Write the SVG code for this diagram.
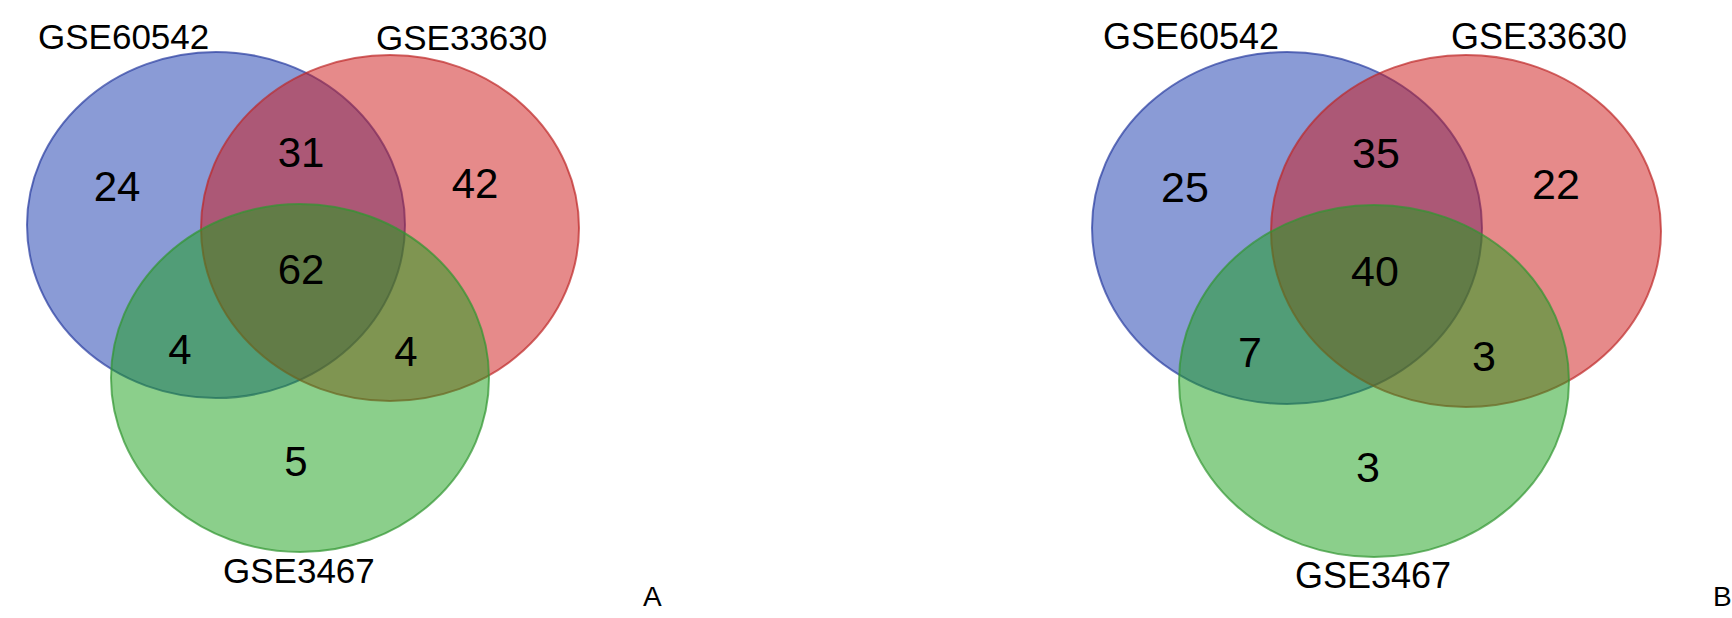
<svg xmlns="http://www.w3.org/2000/svg" width="1732" height="618" viewBox="0 0 1732 618">
<style>
.b{fill:rgb(21,55,173);fill-opacity:0.5;stroke:rgb(40,60,160);stroke-opacity:0.7;stroke-width:2}
.r{fill:rgb(205,21,21);fill-opacity:0.5;stroke:rgb(190,40,40);stroke-opacity:0.7;stroke-width:2}
.g{fill:rgb(23,159,23);fill-opacity:0.5;stroke:rgb(50,150,50);stroke-opacity:0.7;stroke-width:2}
text{font-family:"Liberation Sans",Arial,sans-serif;fill:#000}
.la{font-size:35px}
.na{font-size:42px;text-anchor:middle}
.lb{font-size:36px}
.nb{font-size:43px;text-anchor:middle}
.p{font-size:28px}
</style>
<rect width="1732" height="618" fill="#fff"/>
<g id="panelA">
<g id="A-GSE60542"><ellipse class="b" cx="216" cy="225" rx="189" ry="173"/></g>
<g id="A-GSE33630"><ellipse class="r" cx="390" cy="228" rx="189" ry="173"/></g>
<g id="A-GSE3467"><ellipse class="g" cx="300" cy="378" rx="189" ry="174"/></g>
<g id="A-labels">
<text class="la" x="38" y="49">GSE60542</text>
<text class="la" x="376" y="50">GSE33630</text>
<text class="la" x="223" y="583">GSE3467</text>
<text class="na" x="117" y="201">24</text>
<text class="na" x="301" y="167">31</text>
<text class="na" x="475" y="198">42</text>
<text class="na" x="301" y="284">62</text>
<text class="na" x="180" y="364">4</text>
<text class="na" x="406" y="366">4</text>
<text class="na" x="296" y="476">5</text>
<text class="p" x="643" y="606">A</text>
</g>
</g>
<g id="panelB">
<g id="B-GSE60542"><ellipse class="b" cx="1287" cy="228" rx="195" ry="176"/></g>
<g id="B-GSE33630"><ellipse class="r" cx="1466" cy="231" rx="195" ry="176"/></g>
<g id="B-GSE3467"><ellipse class="g" cx="1374" cy="381" rx="195" ry="176"/></g>
<g id="B-labels">
<text class="lb" x="1103" y="49">GSE60542</text>
<text class="lb" x="1451" y="49">GSE33630</text>
<text class="lb" x="1295" y="588">GSE3467</text>
<text class="nb" x="1185" y="202">25</text>
<text class="nb" x="1376" y="168">35</text>
<text class="nb" x="1556" y="199">22</text>
<text class="nb" x="1375" y="286">40</text>
<text class="nb" x="1250" y="367">7</text>
<text class="nb" x="1484" y="371">3</text>
<text class="nb" x="1368" y="482">3</text>
<text class="p" x="1713" y="606">B</text>
</g>
</g>
</svg>
